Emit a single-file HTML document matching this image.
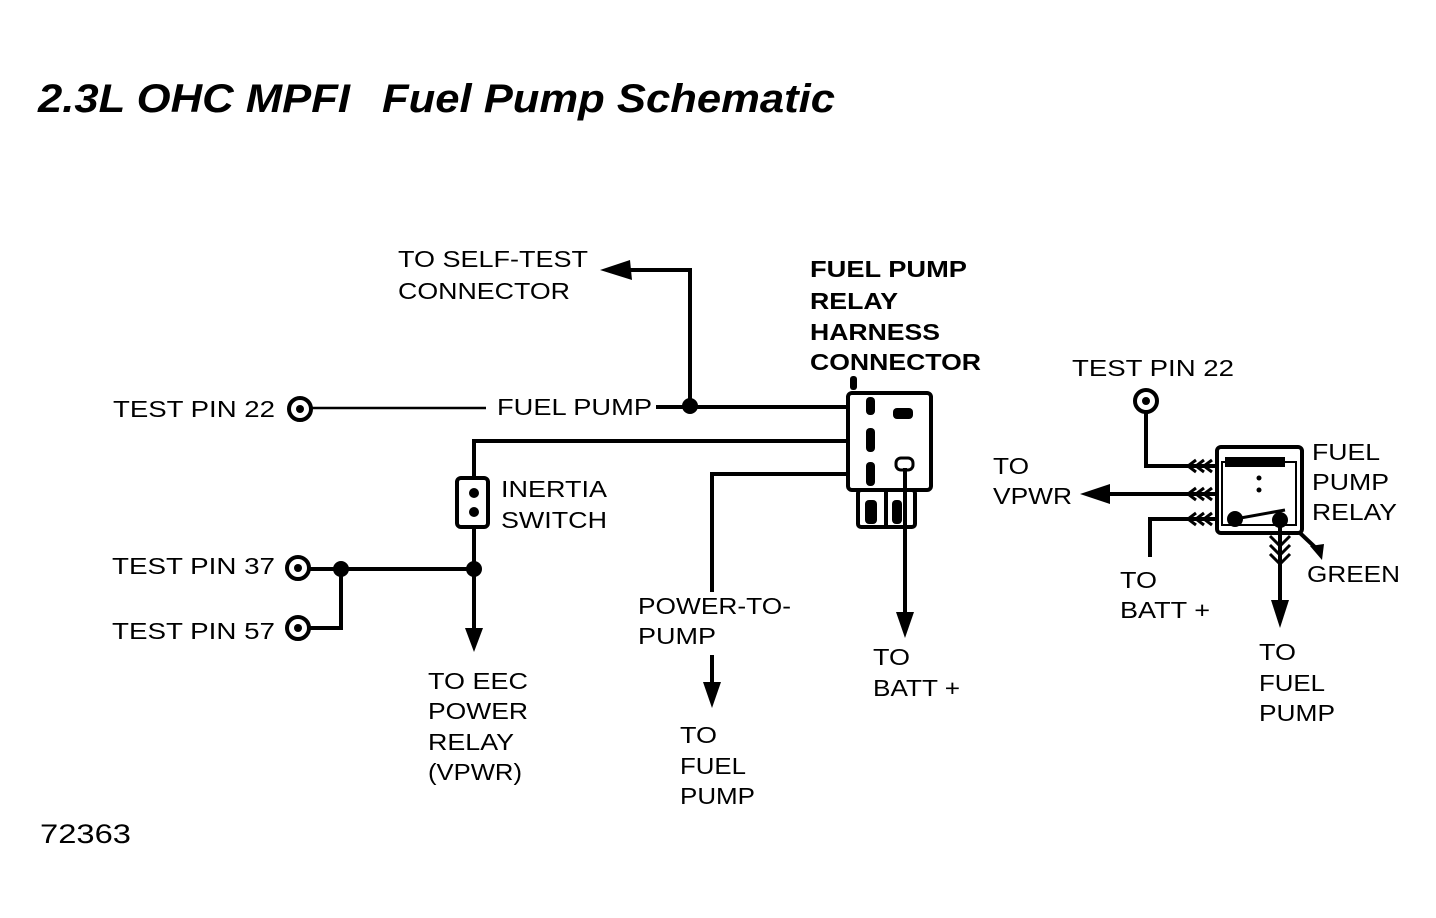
<!DOCTYPE html>
<html><head><meta charset="utf-8"><style>
html,body{margin:0;padding:0;background:#fff;}
svg{display:block;}
text{font-family:"Liberation Sans",sans-serif;fill:#000;}
.t{font-size:23px;}
.b{font-size:23px;font-weight:bold;}
</style></head><body>
<svg width="1436" height="918" viewBox="0 0 1436 918" xmlns="http://www.w3.org/2000/svg">
<text x="38" y="112" font-size="40" font-weight="bold" font-style="italic" textLength="312" lengthAdjust="spacingAndGlyphs">2.3L OHC MPFI</text>
<text x="382" y="112" font-size="40" font-weight="bold" font-style="italic" textLength="453" lengthAdjust="spacingAndGlyphs">Fuel Pump Schematic</text>

<g stroke="#000" stroke-width="4" fill="none">
<!-- test pin 22 -->
<circle cx="300" cy="409" r="11"/>
<line x1="311" y1="408" x2="486" y2="408" stroke-width="2.5"/>
<line x1="656" y1="407" x2="850" y2="407"/>
<polyline points="690,407 690,270 630,270"/>
<!-- y=441 line -->
<polyline points="850,441 474,441 474,478"/>
<rect x="457" y="478" width="31" height="49" rx="4"/>
<line x1="474" y1="527" x2="474" y2="635"/>
<!-- test pins 37/57 -->
<circle cx="298" cy="568" r="11"/>
<circle cx="298" cy="628" r="11"/>
<line x1="309" y1="569" x2="474" y2="569"/>
<polyline points="309,628 341,628 341,569"/>
<!-- power to pump -->
<polyline points="850,474 712,474 712,592"/>
<line x1="712" y1="655" x2="712" y2="690"/>
<!-- connector -->
<rect x="848" y="393" width="83" height="97" rx="4"/>
<rect x="858" y="490" width="57" height="37" rx="3"/>
<line x1="886" y1="490" x2="886" y2="527"/>
<line x1="905" y1="468" x2="905" y2="620"/>
<!-- right relay -->
<circle cx="1146" cy="401" r="11"/>
<polyline points="1146,412 1146,466 1215,466"/>
<line x1="1105" y1="494" x2="1217" y2="494"/>
<polyline points="1150,557 1150,519 1217,519"/>
<rect x="1217" y="447" width="85" height="86" rx="4"/>
<line x1="1280" y1="520" x2="1280" y2="610"/>
<line x1="1300" y1="533" x2="1318" y2="550"/>
</g>
<g fill="#000" stroke="none">
<circle cx="300" cy="409" r="4"/>
<circle cx="298" cy="568" r="4"/>
<circle cx="298" cy="628" r="4"/>
<circle cx="1146" cy="401" r="4"/>
<circle cx="690" cy="406" r="8"/>
<circle cx="341" cy="569" r="8"/>
<circle cx="474" cy="569" r="8"/>
<circle cx="474" cy="493" r="5"/><circle cx="474" cy="512" r="5"/>
<!-- arrowheads -->
<polygon points="600,270 630,260 632,280"/>
<polygon points="465,628 483,628 474,652"/>
<polygon points="703,682 721,682 712,708"/>
<polygon points="896,612 914,612 905,638"/>
<polygon points="1271,600 1289,600 1280,628"/>
<polygon points="1080,494 1110,484 1110,504"/>
<polygon points="1310,546 1324,544 1322,560"/>
<!-- connector pins -->
<rect x="866" y="397" width="9" height="18" rx="4"/>
<rect x="866" y="428" width="9" height="24" rx="4"/>
<rect x="866" y="462" width="9" height="24" rx="4"/>
<rect x="893" y="408" width="20" height="11" rx="4"/>
<rect x="850" y="376" width="7" height="14" rx="3"/>
<rect x="865" y="500" width="12" height="24" rx="4"/>
<rect x="892" y="500" width="10" height="24" rx="4"/>
<!-- relay internals -->
<circle cx="1235" cy="519" r="8"/>
<circle cx="1280" cy="520" r="8"/>
<rect x="1225" y="457" width="60" height="10"/>
<circle cx="1259" cy="478" r="2.5"/><circle cx="1259" cy="490" r="2.5"/>
</g>
<g stroke="#000" stroke-width="3" fill="none">
<rect x="896" y="458" width="17" height="12" rx="5"/>
<line x1="1235" y1="519" x2="1285" y2="510"/>
<polyline points="1196,460 1188,466 1196,472"/><polyline points="1204,460 1196,466 1204,472"/><polyline points="1212,460 1204,466 1212,472"/>
<polyline points="1196,488 1188,494 1196,500"/><polyline points="1204,488 1196,494 1204,500"/><polyline points="1212,488 1204,494 1212,500"/>
<polyline points="1196,513 1188,519 1196,525"/><polyline points="1204,513 1196,519 1204,525"/><polyline points="1212,513 1204,519 1212,525"/>
<polyline points="1270,536 1280,546 1290,536"/><polyline points="1270,545 1280,555 1290,545"/><polyline points="1270,554 1280,564 1290,554"/>
<path d="M1222,462 h74 v63 h-74 z" stroke-width="2"/>
</g>
<!-- labels -->
<text class="t" x="398" y="267" textLength="190" lengthAdjust="spacingAndGlyphs">TO SELF-TEST</text>
<text class="t" x="398" y="299" textLength="172" lengthAdjust="spacingAndGlyphs">CONNECTOR</text>
<text class="b" x="810" y="277" textLength="157" lengthAdjust="spacingAndGlyphs">FUEL PUMP</text>
<text class="b" x="810" y="309" textLength="88" lengthAdjust="spacingAndGlyphs">RELAY</text>
<text class="b" x="810" y="340" textLength="130" lengthAdjust="spacingAndGlyphs">HARNESS</text>
<text class="b" x="810" y="370" textLength="171" lengthAdjust="spacingAndGlyphs">CONNECTOR</text>
<text class="t" x="113" y="417" textLength="162" lengthAdjust="spacingAndGlyphs">TEST PIN 22</text>
<text class="t" x="497" y="415" textLength="155" lengthAdjust="spacingAndGlyphs">FUEL PUMP</text>
<text class="t" x="501" y="497" textLength="106" lengthAdjust="spacingAndGlyphs">INERTIA</text>
<text class="t" x="501" y="528" textLength="106" lengthAdjust="spacingAndGlyphs">SWITCH</text>
<text class="t" x="112" y="574" textLength="163" lengthAdjust="spacingAndGlyphs">TEST PIN 37</text>
<text class="t" x="112" y="639" textLength="163" lengthAdjust="spacingAndGlyphs">TEST PIN 57</text>
<text class="t" x="428" y="689" textLength="100" lengthAdjust="spacingAndGlyphs">TO EEC</text>
<text class="t" x="428" y="719" textLength="100" lengthAdjust="spacingAndGlyphs">POWER</text>
<text class="t" x="428" y="750" textLength="86" lengthAdjust="spacingAndGlyphs">RELAY</text>
<text class="t" x="428" y="780" textLength="94" lengthAdjust="spacingAndGlyphs">(VPWR)</text>
<text class="t" x="638" y="614" textLength="153" lengthAdjust="spacingAndGlyphs">POWER-TO-</text>
<text class="t" x="638" y="644" textLength="78" lengthAdjust="spacingAndGlyphs">PUMP</text>
<text class="t" x="680" y="743" textLength="37" lengthAdjust="spacingAndGlyphs">TO</text>
<text class="t" x="680" y="774" textLength="66" lengthAdjust="spacingAndGlyphs">FUEL</text>
<text class="t" x="680" y="804" textLength="75" lengthAdjust="spacingAndGlyphs">PUMP</text>
<text class="t" x="873" y="665" textLength="37" lengthAdjust="spacingAndGlyphs">TO</text>
<text class="t" x="873" y="696" textLength="87" lengthAdjust="spacingAndGlyphs">BATT +</text>
<text class="t" x="1072" y="376" textLength="162" lengthAdjust="spacingAndGlyphs">TEST PIN 22</text>
<text class="t" x="993" y="474" textLength="36" lengthAdjust="spacingAndGlyphs">TO</text>
<text class="t" x="993" y="504" textLength="79" lengthAdjust="spacingAndGlyphs">VPWR</text>
<text class="t" x="1312" y="460" textLength="68" lengthAdjust="spacingAndGlyphs">FUEL</text>
<text class="t" x="1312" y="490" textLength="77" lengthAdjust="spacingAndGlyphs">PUMP</text>
<text class="t" x="1312" y="520" textLength="85" lengthAdjust="spacingAndGlyphs">RELAY</text>
<text class="t" x="1307" y="582" textLength="93" lengthAdjust="spacingAndGlyphs">GREEN</text>
<text class="t" x="1120" y="588" textLength="37" lengthAdjust="spacingAndGlyphs">TO</text>
<text class="t" x="1120" y="618" textLength="90" lengthAdjust="spacingAndGlyphs">BATT +</text>
<text class="t" x="1259" y="660" textLength="37" lengthAdjust="spacingAndGlyphs">TO</text>
<text class="t" x="1259" y="691" textLength="66" lengthAdjust="spacingAndGlyphs">FUEL</text>
<text class="t" x="1259" y="721" textLength="76" lengthAdjust="spacingAndGlyphs">PUMP</text>
<text x="40" y="843" font-size="27" textLength="91" lengthAdjust="spacingAndGlyphs">72363</text>
</svg>
</body></html>
